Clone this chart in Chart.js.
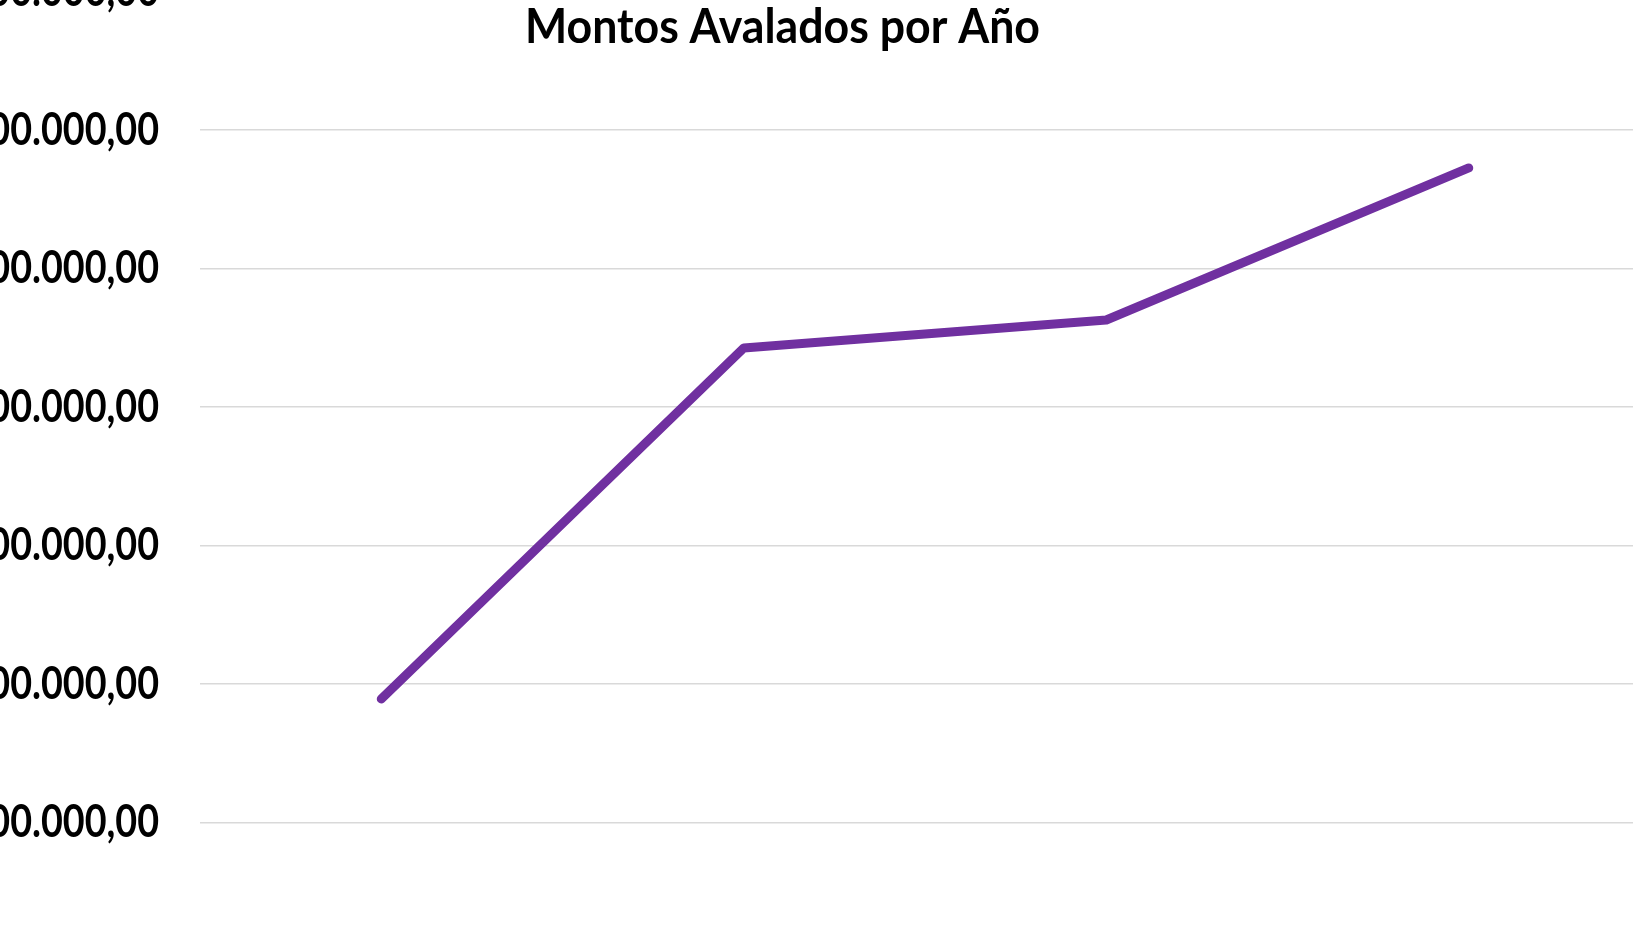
<!DOCTYPE html>
<html>
<head>
<meta charset="utf-8">
<script src="https://cdn.jsdelivr.net/npm/chart.js@4/dist/chart.umd.min.js"></script>
<style>
  html, body { margin: 0; padding: 0; background: #ffffff; }
  #wrap { position: relative; width: 1633px; height: 937px; overflow: hidden; background: #ffffff; }
  #c { position: absolute; left: 0; top: -40px; }
</style>
</head>
<body>
<div id="wrap"><canvas id="c" width="1660" height="977"></canvas></div>
<script>
// ---- data ----
const title = "Montos Avalados por Año";
const categories = ["2016", "2017", "2018", "2019"];
const montos = [946000, 2213000, 2314000, 2863000];
const yMin = 500000;
const yMax = 3500000;
const yStep = 500000;

function fmt(v) {
  const neg = v < 0;
  v = Math.abs(v);
  const parts = v.toFixed(2).split(".");
  const intPart = parts[0].replace(/\B(?=(\d{3})+(?!\d))/g, ".");
  return (neg ? "-" : "") + intPart + "," + parts[1];
}

const FONT = "Lato, 'Open Sans', sans-serif";

// draws title and y tick labels with a narrow (Calibri-like) proportion
const narrowText = {
  id: "narrowText",
  afterDraw(chart) {
    const ctx = chart.ctx;
    // title
    ctx.save();
    ctx.font = "bold 48px " + FONT;
    ctx.fillStyle = "#000000";
    ctx.textAlign = "center";
    ctx.textBaseline = "alphabetic";
    const w = ctx.measureText(title).width;
    ctx.translate(782.5, 83);
    ctx.scale(515 / w, 1);
    ctx.fillText(title, 0, 0);
    ctx.restore();

    // y tick labels from the scale's own ticks
    const s = chart.scales.y;
    ctx.save();
    ctx.font = "bold 46px " + FONT;
    ctx.fillStyle = "#000000";
    const ref = ctx.measureText(".000,00").width;
    const sx = 127 / ref;
    s.ticks.forEach((t, i) => {
      const y = s.getPixelForTick(i);
      ctx.save();
      ctx.translate(s.right - 41, y);
      ctx.scale(sx, 1);
      ctx.textAlign = "right";
      ctx.textBaseline = "middle";
      ctx.fillText(fmt(t.value), 0, 0);
      ctx.restore();
    });
    ctx.restore();
  }
};

new Chart(document.getElementById("c"), {
  type: "line",
  data: {
    labels: categories,
    datasets: [{
      label: title,
      data: montos,
      borderColor: "#7030A0",
      backgroundColor: "#7030A0",
      borderWidth: 9,
      borderCapStyle: "round",
      borderJoinStyle: "round",
      pointRadius: 0,
      pointHoverRadius: 0,
      tension: 0,
      fill: false
    }]
  },
  options: {
    responsive: false,
    animation: false,
    layout: { autoPadding: false, padding: { left: 0, right: 10, top: 31.5, bottom: 114.5 } },
    plugins: {
      legend: { display: false },
      title: { display: false },
      tooltip: { enabled: false }
    },
    scales: {
      x: {
        type: "category",
        offset: true,
        display: false
      },
      y: {
        min: yMin,
        max: yMax,
        border: { display: false },
        grid: { color: "#d9d9d9", lineWidth: 1.5, drawTicks: false },
        afterFit(scale) {
          scale.width = 200;
          scale.paddingTop = 0;
          scale.paddingBottom = 0;
        },
        ticks: {
          display: false,
          stepSize: yStep
        }
      }
    }
  },
  plugins: [narrowText]
});
</script>
</body>
</html>
